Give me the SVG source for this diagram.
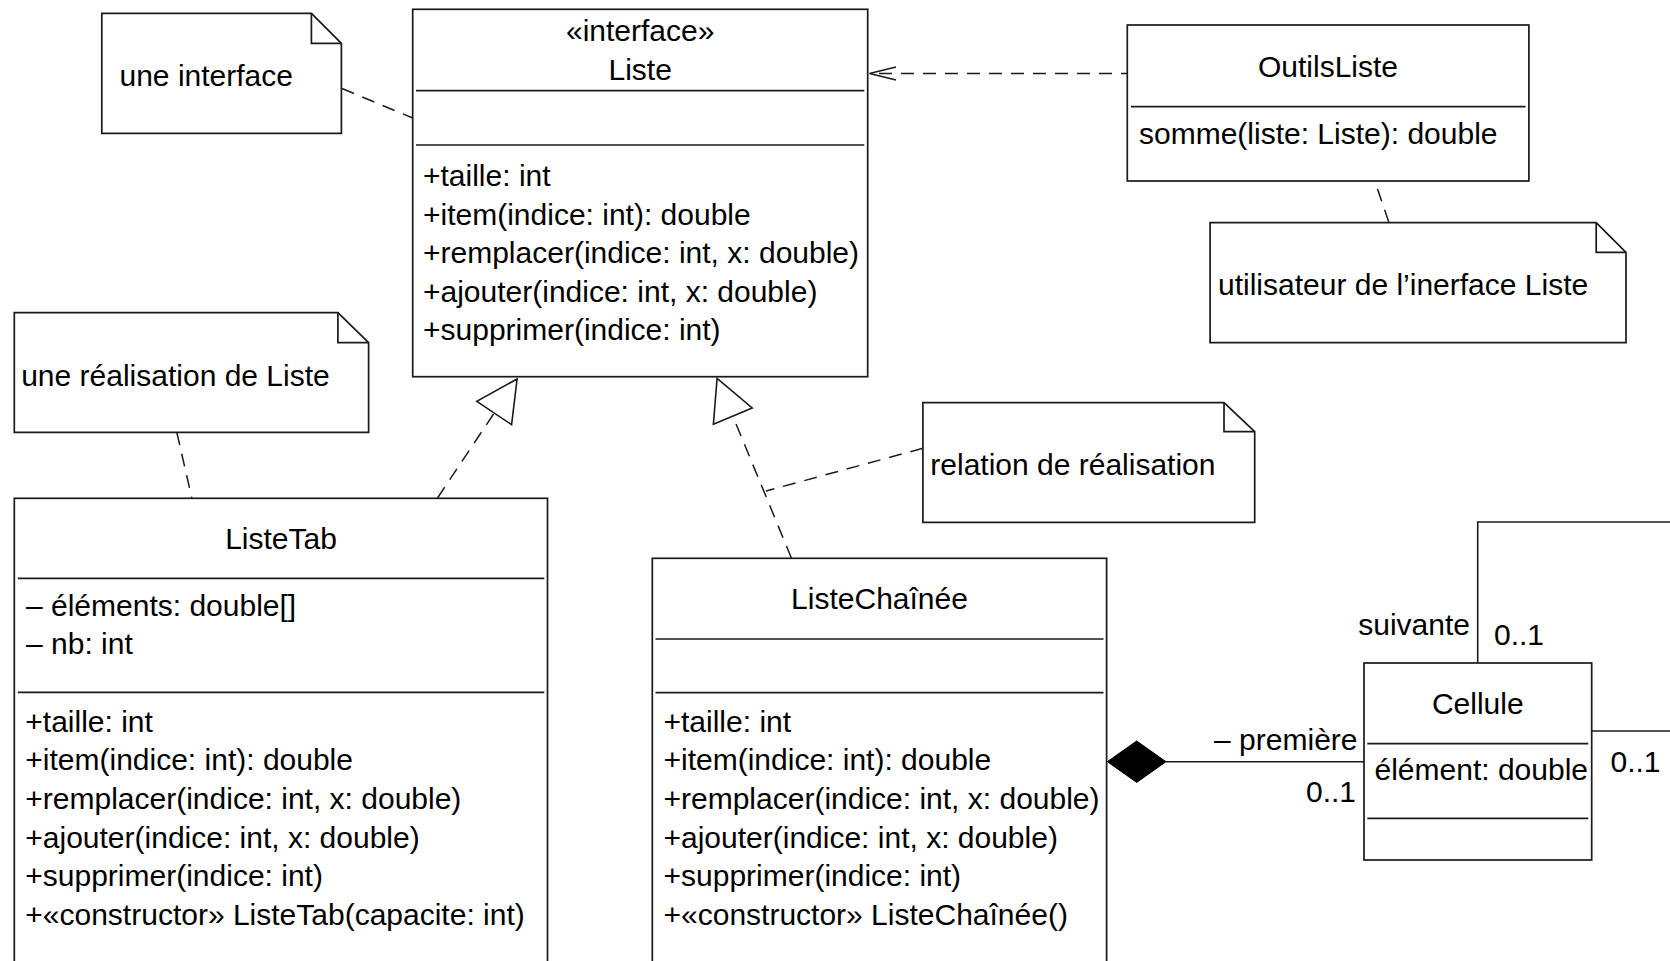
<svg xmlns="http://www.w3.org/2000/svg" width="1670" height="961" viewBox="0 0 1670 961">
  <style>
    text { font-family: "Liberation Sans", Arial, sans-serif; font-size: 30px; fill: #000; }
    .mid { text-anchor: middle; }
    .end { text-anchor: end; }
    .box { fill: #fff; stroke: #1a1a1a; stroke-width: 1.7; }
    .sep { stroke: #1a1a1a; stroke-width: 1.7; fill: none; }
    .note { fill: #fff; stroke: #1a1a1a; stroke-width: 1.7; stroke-linejoin: miter; }
    .fold { fill: none; stroke: #1a1a1a; stroke-width: 1.7; }
    .dash { fill: none; stroke: #1a1a1a; stroke-width: 1.5; stroke-dasharray: 13 9; }
    .solid { fill: none; stroke: #1a1a1a; stroke-width: 1.6; }
    .head { fill: #fff; stroke: #1a1a1a; stroke-width: 1.6; stroke-linejoin: miter; }
  </style>

  <rect width="1670" height="961" fill="#fff"/>

  <!-- connectors -->
  <g id="connectors">
    <!-- note anchors -->
    <line class="dash" x1="342" y1="88.5" x2="412.7" y2="118"/>
    <line class="dash" x1="176.8" y1="432.3" x2="191.8" y2="498"/>
    <line class="dash" x1="922.9" y1="448.3" x2="766" y2="491"/>
    <line class="dash" x1="1377.5" y1="189" x2="1389" y2="222.7"/>

    <!-- dependency OutilsListe -> Liste -->
    <line class="dash" x1="1134" y1="73.5" x2="871" y2="73.5"/>
    <polyline class="solid" points="896,67 869.5,73.5 896,80"/>

    <!-- realization ListeTab -> Liste -->
    <line class="dash" x1="437.5" y1="498" x2="494.2" y2="413"/>
    <polygon class="head" points="517.1,379 511.6,424.7 476.8,401.3"/>

    <!-- realization ListeChaînée -> Liste -->
    <line class="dash" x1="791.4" y1="558" x2="732.8" y2="416.1"/>
    <polygon class="head" points="717.1,378.3 752.2,408 713.4,424.2"/>

    <!-- composition ListeChaînée -> Cellule -->
    <line class="solid" x1="1166" y1="761.7" x2="1364" y2="761.7"/>
    <polygon points="1107.3,761.7 1136.7,741 1166,761.7 1136.7,782.4" fill="#000" stroke="#000" stroke-width="1"/>

    <!-- self association on Cellule -->
    <polyline class="solid" points="1477.7,663 1477.7,522 1680,522"/>
    <line class="solid" x1="1591.7" y1="731" x2="1680" y2="731"/>

    <text class="end" x="1357.5" y="750">– première</text>
    <text class="end" x="1356" y="801.7">0..1</text>
    <text class="end" x="1470" y="635">suivante</text>
    <text x="1494" y="645">0..1</text>
    <text x="1610.5" y="771.7">0..1</text>
  </g>

  <!-- interface Liste -->
  <g id="Liste">
    <rect class="box" x="412.7" y="9.3" width="455" height="367.4"/>
    <line class="sep" x1="416" y1="90.7" x2="864.3" y2="90.7"/>
    <line class="sep" x1="416" y1="145" x2="864.3" y2="145"/>
    <text class="mid" x="640.2" y="41">«interface»</text>
    <text class="mid" x="640.2" y="80">Liste</text>
    <text x="423" y="186">+taille: int</text>
    <text x="423" y="224.5">+item(indice: int): double</text>
    <text x="423" y="263">+remplacer(indice: int, x: double)</text>
    <text x="423" y="301.5">+ajouter(indice: int, x: double)</text>
    <text x="423" y="340">+supprimer(indice: int)</text>
  </g>

  <!-- class OutilsListe -->
  <g id="OutilsListe">
    <rect class="box" x="1127.3" y="25" width="401.6" height="156"/>
    <line class="sep" x1="1130.9" y1="106.7" x2="1525.5" y2="106.7"/>
    <text class="mid" x="1328" y="77">OutilsListe</text>
    <text x="1139" y="143.5">somme(liste: Liste): double</text>
  </g>

  <!-- class ListeTab -->
  <g id="ListeTab">
    <rect class="box" x="14.3" y="498.3" width="533.2" height="490"/>
    <line class="sep" x1="17.8" y1="578.3" x2="544.3" y2="578.3"/>
    <line class="sep" x1="17.8" y1="692.3" x2="544.3" y2="692.3"/>
    <text class="mid" x="281" y="548.5">ListeTab</text>
    <text x="26" y="615.5">– éléments: double[]</text>
    <text x="26" y="654">– nb: int</text>
    <text x="25.3" y="731.7">+taille: int</text>
    <text x="25.3" y="770.3">+item(indice: int): double</text>
    <text x="25.3" y="808.9">+remplacer(indice: int, x: double)</text>
    <text x="25.3" y="847.5">+ajouter(indice: int, x: double)</text>
    <text x="25.3" y="886.1">+supprimer(indice: int)</text>
    <text x="25.3" y="924.7">+«constructor» ListeTab(capacite: int)</text>
  </g>

  <!-- class ListeChaînée -->
  <g id="ListeChainee">
    <rect class="box" x="652.3" y="558.3" width="454.3" height="430"/>
    <line class="sep" x1="655.5" y1="639" x2="1103.5" y2="639"/>
    <line class="sep" x1="655.5" y1="692.7" x2="1103.5" y2="692.7"/>
    <text class="mid" x="879.5" y="609">ListeChaînée</text>
    <text x="663.5" y="731.7">+taille: int</text>
    <text x="663.5" y="770.3">+item(indice: int): double</text>
    <text x="663.5" y="808.9">+remplacer(indice: int, x: double)</text>
    <text x="663.5" y="847.5">+ajouter(indice: int, x: double)</text>
    <text x="663.5" y="886.1">+supprimer(indice: int)</text>
    <text x="663.5" y="924.7">+«constructor» ListeChaînée()</text>
  </g>

  <!-- class Cellule -->
  <g id="Cellule">
    <rect class="box" x="1364" y="663" width="227.7" height="197"/>
    <line class="sep" x1="1367.3" y1="743.7" x2="1588.3" y2="743.7"/>
    <line class="sep" x1="1367.3" y1="818.3" x2="1588.3" y2="818.3"/>
    <text class="mid" x="1477.8" y="713.5">Cellule</text>
    <text x="1374.5" y="780">élément: double</text>
  </g>

  <!-- notes -->
  <g id="note-interface">
    <path class="note" d="M101.8,13.3 H311.4 L341.4,43.3 V133.3 H101.8 Z"/>
    <path class="fold" d="M311.4,13.3 V43.3 H341.4"/>
    <text x="119.5" y="86">une interface</text>
  </g>

  <g id="note-realisation">
    <path class="note" d="M14.3,312.7 H337.9 L368.6,342.7 V432.3 H14.3 Z"/>
    <path class="fold" d="M337.9,312.7 V342.7 H368.6"/>
    <text x="21.2" y="386">une réalisation de Liste</text>
  </g>

  <g id="note-relation">
    <path class="note" d="M922.9,402.7 H1224 L1254.7,431.7 V522.3 H922.9 Z"/>
    <path class="fold" d="M1224,402.7 V431.7 H1254.7"/>
    <text x="930.3" y="475">relation de réalisation</text>
  </g>

  <g id="note-utilisateur">
    <path class="note" d="M1210.1,222.7 H1596.2 L1626,252.3 V342.7 H1210.1 Z"/>
    <path class="fold" d="M1596.2,222.7 V252.3 H1626"/>
    <text x="1218" y="295">utilisateur de l’inerface Liste</text>
  </g>
</svg>
